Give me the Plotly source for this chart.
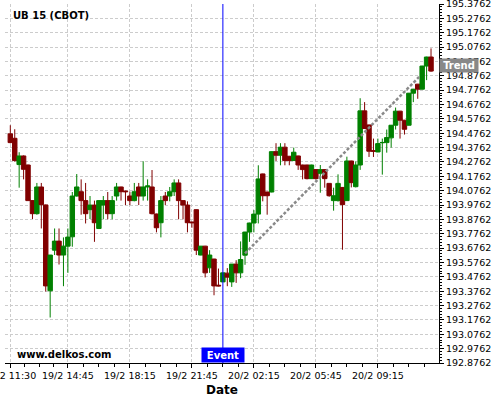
import plotly.graph_objects as go

# ---- data (15-minute bars, index 0 = 19/2 11:30) ----
BAR_INDEX = list(range(96))
OPEN = [194.472, 194.441, 194.258, 194.318, 194.255, 194.007, 193.916, 194.102, 193.977, 193.379,
        193.662, 193.725, 193.628, 193.690, 193.755, 194.039, 194.069, 194.007, 193.944, 193.976,
        193.813, 193.976, 194.007, 193.916, 194.039, 194.102, 194.074, 194.039, 194.007, 194.102,
        194.039, 194.102, 194.102, 193.914, 193.853, 194.039, 194.039, 194.069, 194.130, 194.007,
        193.976, 193.858, 193.944, 193.628, 193.690, 193.539, 193.600, 193.418, 193.441, 193.502,
        193.441, 193.565, 193.504, 193.627, 193.788, 193.851, 193.913, 194.193, 194.067, 194.067,
        194.348, 194.323, 194.379, 194.316, 194.286, 194.318, 194.255, 194.255, 194.160, 194.223,
        194.197, 194.223, 194.127, 194.007, 194.007, 194.099, 194.007, 194.283, 194.104, 194.255,
        194.632, 194.534, 194.355, 194.346, 194.410, 194.411, 194.444, 194.532, 194.630, 194.567,
        194.532, 194.755, 194.818, 194.783, 194.944, 195.007]
HIGH = [194.532, 194.504, 194.344, 194.322, 194.258, 194.010, 194.130, 194.130, 193.980, 193.628,
        193.813, 193.813, 193.751, 193.813, 194.067, 194.192, 194.155, 194.130, 194.039, 194.007,
        194.010, 194.039, 194.067, 194.039, 194.130, 194.104, 194.076, 194.069, 194.130, 194.130,
        194.281, 194.155, 194.220, 193.916, 194.039, 194.067, 194.102, 194.155, 194.155, 194.009,
        194.002, 193.860, 193.946, 193.690, 193.692, 193.662, 193.602, 193.534, 193.504, 193.537,
        193.565, 193.592, 193.723, 193.790, 193.853, 193.941, 194.253, 194.195, 194.069, 194.350,
        194.407, 194.407, 194.407, 194.318, 194.376, 194.320, 194.257, 194.257, 194.257, 194.225,
        194.255, 194.225, 194.129, 194.097, 194.190, 194.101, 194.313, 194.285, 194.279, 194.720,
        194.693, 194.536, 194.439, 194.439, 194.439, 194.502, 194.534, 194.655, 194.632, 194.569,
        194.757, 194.785, 194.820, 194.946, 195.009, 195.067]
LOW = [194.406, 194.278, 194.097, 194.155, 194.006, 193.879, 193.909, 193.813, 193.374, 193.193,
       193.628, 193.562, 193.411, 193.504, 193.686, 194.035, 193.909, 193.848, 193.879, 193.720,
       193.809, 193.877, 193.877, 193.877, 194.007, 194.007, 193.976, 193.976, 194.002, 193.976,
       194.007, 194.007, 193.911, 193.786, 193.751, 193.976, 194.002, 194.039, 193.877, 193.877,
       193.786, 193.818, 193.628, 193.626, 193.472, 193.504, 193.348, 193.410, 193.441, 193.411,
       193.406, 193.434, 193.467, 193.560, 193.720, 193.786, 193.848, 194.002, 193.909, 194.065,
       194.283, 194.253, 194.253, 194.253, 194.284, 194.221, 194.155, 194.155, 194.158, 194.155,
       194.062, 194.097, 194.034, 193.937, 194.000, 193.665, 194.005, 194.099, 194.099, 194.221,
       194.507, 194.311, 194.311, 194.344, 194.188, 194.341, 194.376, 194.502, 194.439, 194.467,
       194.530, 194.693, 194.716, 194.781, 194.846, 194.904]
CLOSE = [194.411, 194.286, 194.318, 194.225, 194.007, 193.916, 194.102, 193.979, 193.413, 193.628,
         193.725, 193.628, 193.690, 193.753, 194.039, 194.102, 194.007, 193.916, 193.976, 193.853,
         194.007, 194.007, 193.916, 194.007, 194.102, 194.069, 194.069, 194.007, 194.069, 194.039,
         194.102, 194.109, 193.916, 193.818, 194.007, 194.007, 194.069, 194.130, 194.007, 193.976,
         193.853, 193.853, 193.662, 193.690, 193.504, 193.628, 193.413, 193.413, 193.504, 193.474,
         193.565, 193.504, 193.597, 193.788, 193.851, 193.913, 194.158, 194.041, 194.041, 194.348,
         194.323, 194.379, 194.286, 194.286, 194.344, 194.255, 194.223, 194.160, 194.255, 194.160,
         194.223, 194.160, 194.041, 194.041, 194.127, 193.979, 194.283, 194.132, 194.255, 194.632,
         194.509, 194.351, 194.351, 194.404, 194.412, 194.446, 194.532, 194.630, 194.567, 194.504,
         194.755, 194.783, 194.783, 194.944, 195.007, 194.909]

X_TICK_POS = [0, 13, 27, 41, 55, 69, 83]
X_TICK_TEXT = ["19/2 11:30", "19/2 14:45", "19/2 18:15", "19/2 21:45",
               "20/2 02:15", "20/2 05:45", "20/2 09:15"]
Y_TICK_TEXT = ["192.8762", "192.9762", "193.0762", "193.1762", "193.2762", "193.3762",
               "193.4762", "193.5762", "193.6762", "193.7762", "193.8762", "193.9762",
               "194.0762", "194.1762", "194.2762", "194.3762", "194.4762", "194.5762",
               "194.6762", "194.7762", "194.8762", "194.9762", "195.0762", "195.1762",
               "195.2762", "195.3762"]
Y_TICK_VALS = [float(t) for t in Y_TICK_TEXT]

EVENT_INDEX = 48
TREND_X = [53, 92.3]
TREND_Y = [193.64, 194.868]
TREND_LABEL_PRICE = 194.951

TITLE = "UB 15 (CBOT)"
FONT = "DejaVu Sans"

# minor ticks: quarters between major ticks
minor_vals = []
for a, b in zip(X_TICK_POS[:-1], X_TICK_POS[1:]):
    step = (b - a) / 4
    minor_vals += [a + step * k for k in (1, 2, 3)]
minor_vals += [X_TICK_POS[-1] + 3.5 * k for k in (1, 2, 3)]

fig = go.Figure()
fig.add_trace(go.Candlestick(
    x=BAR_INDEX, open=OPEN, high=HIGH, low=LOW, close=CLOSE,
    increasing=dict(line=dict(color="#008000", width=1), fillcolor="#008000"),
    decreasing=dict(line=dict(color="#800000", width=1), fillcolor="#800000"),
    whiskerwidth=0, showlegend=False, hoverinfo="skip",
))
fig.add_trace(go.Scatter(
    x=TREND_X, y=TREND_Y, mode="lines",
    line=dict(color="#8a8a8a", width=2.5, dash="3px,2px"),
    showlegend=False, hoverinfo="skip",
))

fig.add_shape(type="line", xref="x", yref="paper", x0=EVENT_INDEX, x1=EVENT_INDEX,
              y0=0, y1=1, line=dict(color="#0000ff", width=1))

fig.add_annotation(x=EVENT_INDEX, xref="x", y=0, yref="paper", yanchor="bottom",
                   text="<b>Event</b>", showarrow=False, bgcolor="#0000ff",
                   font=dict(family=FONT, size=10, color="white"),
                   width=40, height=12, borderpad=1)
fig.add_annotation(x=1, xref="paper", xanchor="left", y=TREND_LABEL_PRICE, yref="y",
                   text="<b>Trend</b>", showarrow=False, bgcolor="#888888",
                   font=dict(family=FONT, size=10, color="white"),
                   width=36, height=11, borderpad=1)
fig.add_annotation(x=0.0138, xref="paper", xanchor="left", y=0.969, yref="paper",
                   yanchor="middle", text="<b>" + TITLE + "</b>", showarrow=False,
                   font=dict(family=FONT, size=10, color="black"))
fig.add_annotation(x=0.023, xref="paper", xanchor="left", y=0.025, yref="paper",
                   yanchor="middle", text="<b>www.delkos.com</b>", showarrow=False,
                   font=dict(family=FONT, size=10, color="black"))

grid = "#cccccc"
fig.update_layout(
    width=500, height=400,
    margin=dict(l=5, r=61, t=4, b=37),
    paper_bgcolor="white", plot_bgcolor="white",
    font=dict(family=FONT, size=9, color="black"),
    boxgap=0, boxgroupgap=0,
    xaxis=dict(
        range=[-1.2, 96.8], tickmode="array", tickvals=X_TICK_POS, ticktext=X_TICK_TEXT,
        showgrid=True, gridcolor=grid, griddash="3px,2px", gridwidth=1,
        showline=True, linecolor="black", linewidth=1, mirror=False,
        ticks="outside", ticklen=4, tickcolor="black", ticklabeloverflow="allow",
        tickfont=dict(family=FONT, size=9.5, color="black"),
        minor=dict(tickmode="array", tickvals=minor_vals, ticks="outside", ticklen=3,
                   tickcolor="black", showgrid=False),
        title=dict(text="<b>Date</b>", font=dict(family=FONT, size=12, color="black"), standoff=5),
        rangeslider=dict(visible=False), zeroline=False, automargin=False, fixedrange=True,
    ),
    yaxis=dict(
        side="right", range=[192.8762 - 1e-6, 195.3762 + 1e-6], tickmode="array",
        tickvals=Y_TICK_VALS, ticktext=Y_TICK_TEXT,
        showgrid=True, gridcolor=grid, griddash="3px,2px", gridwidth=1,
        showline=True, linecolor="black", linewidth=1,
        ticks="outside", ticklen=4, tickcolor="black", ticklabeloverflow="allow",
        tickfont=dict(family=FONT, size=9.5, color="black"),
        minor=dict(dtick=0.02, tick0=192.8762, ticks="outside", ticklen=2,
                   tickcolor="black", showgrid=False),
        zeroline=False, automargin=False, fixedrange=True,
    ),
)

fig.write_html("out.html", config={"displayModeBar": False, "staticPlot": True},
               post_script="document.body.style.margin='0';")
